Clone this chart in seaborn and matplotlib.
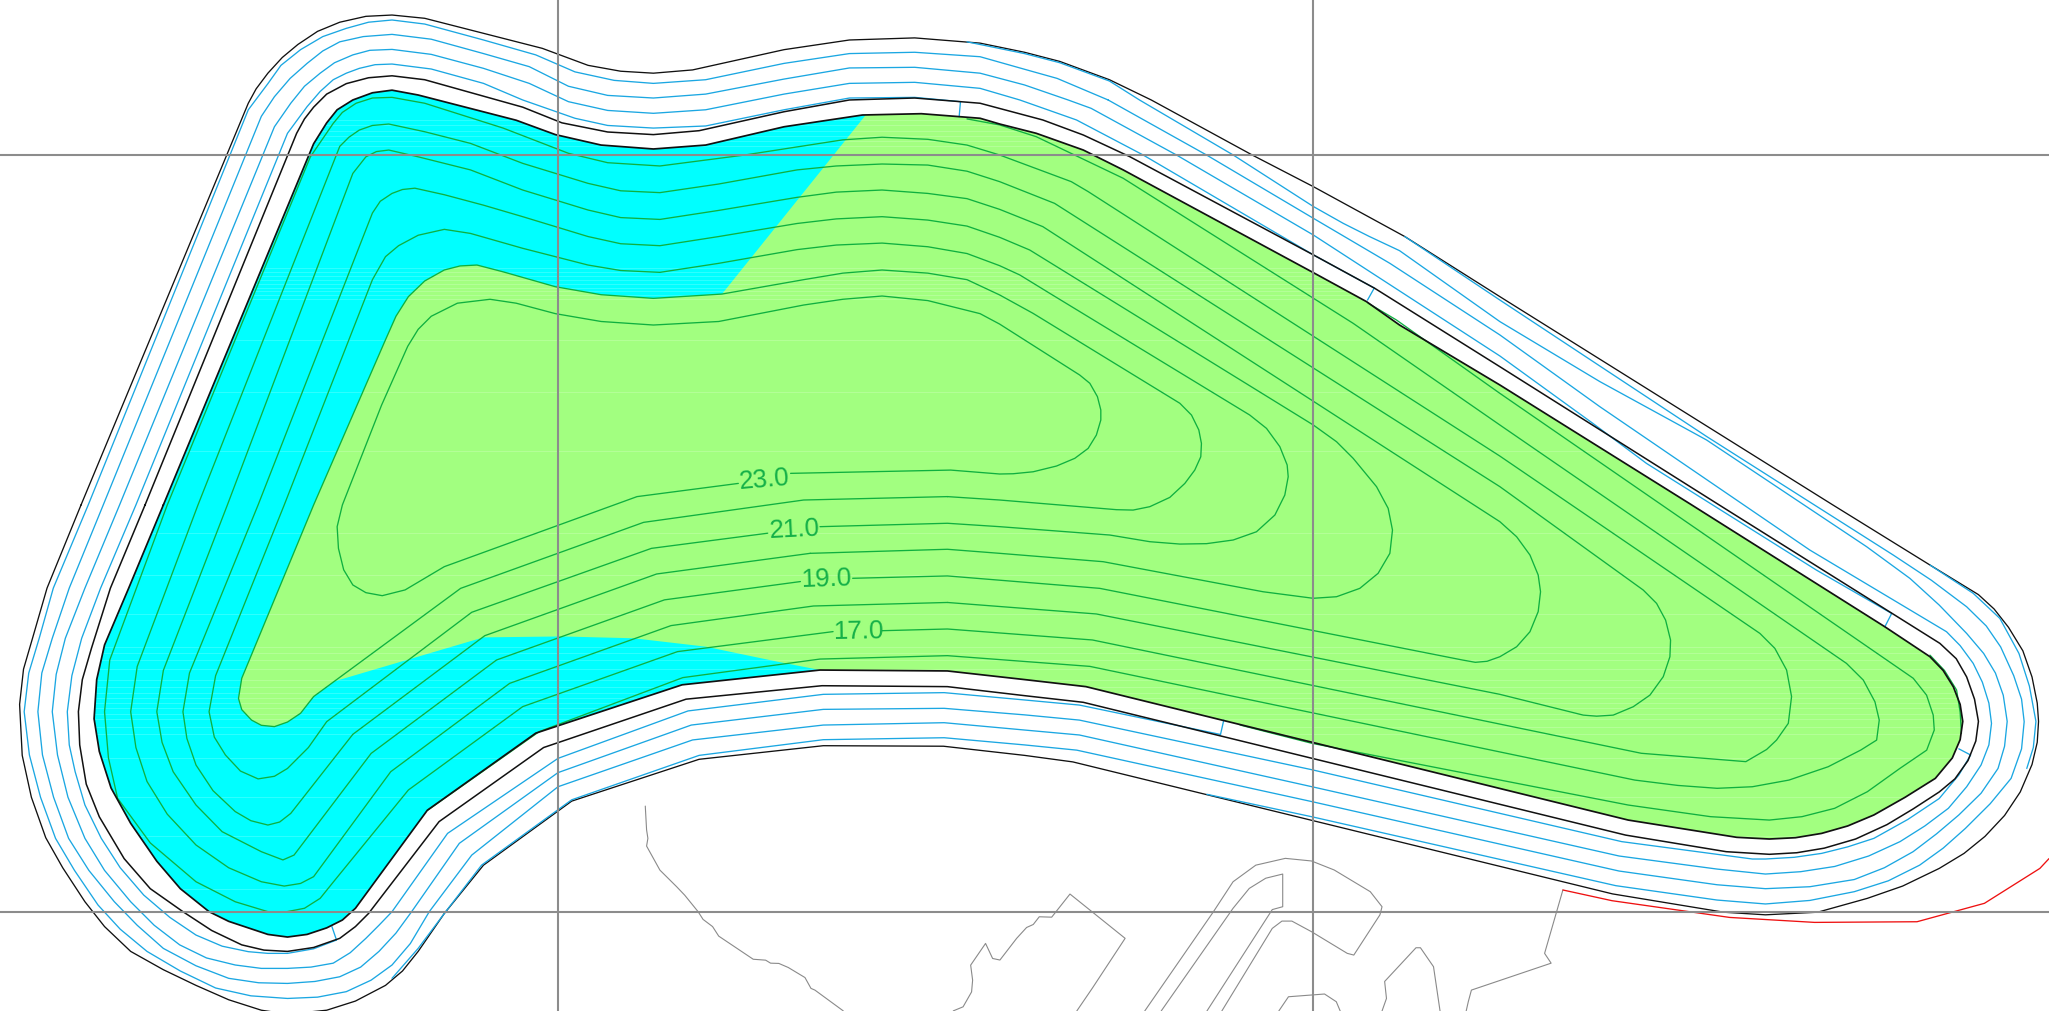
import matplotlib
matplotlib.use("Agg")
import matplotlib.pyplot as plt
import pandas as pd
import seaborn as sns
from matplotlib.patches import Polygon

# drawing units, y grows downwards
grid_x = [427, 1005]
grid_y = [118.6, 697.6]

outer_edge = [(62,386.4),(190,79),(196,68),(205,56),(216,44),(228,34),(243,24),(260,17),(280,12.5),(300,11.5),(325,14),(370,25.5),(415,37),(450,50),(475,54.5),(500,56),(530,53.5),(600,38),(650,30.6),(700,29),(750,33),(784,40),(811,47),(849,61),(881,76.5),(959,119),(1005,142.8),(1075,181),(1147.8,227),(1402,386),(1477,432.4),(1514,455),(1526,466),(1537,480),(1548,498),(1555,518),(1559,538),(1560,552),(1559,568),(1555,585),(1546,606),(1534,624),(1519,640),(1503,653),(1484,664.5),(1456,678),(1429,687.4),(1391,698),(1351,700),(1319,698),(1234,684),(821,583),(784,578),(722,571),(630,570.6),(535,581),(437.5,613),(370,662),(340,699),(320,728),(308,743),(295,754),(272,766),(250,773),(220,776),(200,773),(175,765),(150,754),(125,742),(100,728),(80,709),(65,690),(48,664),(35,641),(24,610),(17,578),(15,539),(18,512),(25,488),(36,450),(62,386.4)]
crest_edge = [(111,386.4),(227,102),(233,91),(240,82),(250,72),(265,64),(282,59.5),(300,58),(325,61),(400,82),(430,94),(465,101),(500,103),(535,100),(600,85.5),(650,76.5),(700,75),(750,79),(765,83),(798,91.8),(829,103.3),(864.6,119.9),(1005,195),(1052,220.6),(1147.8,280.6),(1315,386),(1484.5,492.3),(1497,504),(1505,518),(1511,535),(1514,552),(1512,567),(1506,582),(1496,596),(1484,606),(1464,619),(1444,631),(1420,642),(1396,649),(1375,652.5),(1354,653.7),(1321,651.7),(1244,639),(829,537.4),(784,532.3),(725,525.4),(629,524.7),(525,535),(416,572),(336,628.7),(282,699),(272,709),(260,718),(240,725),(220,728),(202,727),(185,723),(162,712),(140,697.6),(115,680),(95,657),(76,625),(66,600),(61,570),(60,544.5),(63,520),(70,496),(84.5,450),(111,386.4)]
fill_edge = [(125,386.4),(240,110),(250,94),(258,84),(270,76.5),(285,71),(300,69),(320,72.7),(395,92),(425,103),(460,111),(500,114),(540,111),(600,97),(660,88),(705,87),(750,90.5),(765,94.9),(793,102),(829,114.8),(859.5,130),(1005,208.6),(1045.7,230.8),(1071,248.7),(1147.8,294.6),(1294,386),(1442.4,479.6),(1476.9,502.5),(1487,513),(1494.8,525.5),(1500,539),(1502,552),(1500,566),(1494,580),(1481,595.6),(1458,610),(1434,623.6),(1414,632),(1394,637.7),(1374,641),(1354,642),(1329,640.7),(1246,627.5),(831,525.4),(784,520),(725,513.4),(627.5,512.7),(522,524),(410,561),(327,620),(272,695),(262,704),(250,710),(235,715),(220,717),(205,715),(190,710),(175,705),(160,697.6),(138,680),(120,659),(100,630),(85,603),(76,575),(72,550),(74,520),(80,493.5),(98.5,450),(125,386.4)]
green_zone = [(662.5,88),(705,87),(750,90.5),(765,94.9),(793,102),(829,114.8),(859.5,130),(1005,208.6),(1045.7,230.8),(1071,248.7),(1147.8,294.6),(1294,386),(1442.4,479.6),(1476.9,502.5),(1487,513),(1494.8,525.5),(1500,539),(1502,552),(1500,566),(1494,580),(1481,595.6),(1458,610),(1434,623.6),(1414,632),(1394,637.7),(1374,641),(1354,642),(1329,640.7),(1246,627.5),(831,525.4),(784,520),(725,513.4),(627.5,512.7),(595,506.3),(540,494.8),(485,488.4),(430,487),(370,487.7),(255,521.6),(240,533),(230,545.8),(220,552.5),(210,556),(200,555),(192.5,551),(185,543),(182.5,534.4),(185,519),(240,386.4),(295,260),(303,242),(312.5,227),(325,215),(340,206.6),(352,203.5),(365,202.8),(385,208),(425,219.4),(460,225.5),(500,228.3),(552.5,225)]

# bench lines outside the crest
ring_b = [(848,76.5),(923.3,118.6),(1005,167),(1063.6,201.5),(1147.8,256.3),(1224.3,311.2),(1385,420.9),(1489.6,483.4),(1500,494),(1510,507.6),(1517,522),(1522,538),(1524,553.5),(1522,570),(1516,585.4),(1505,602),(1491,618.5),(1473,632),(1454,644),(1430,655),(1404,663),(1378,667),(1351,668.8),(1314,665),(1239,655),(1004,602),(826,562.4),(784,558.6),(722.5,553),(630,554.8),(530,566.2),(427,602),(361,654.3),(328.5,697.6),(314,722),(300,738.4),(284,750),(265,758.8),(243,763),(220,764),(192,762),(165,756),(138,743),(112.5,728),(92,711),(75,692.5),(57,666),(42.5,641.5),(31,610),(22.5,577.7),(18.5,544.6),(22,515),(30,488.4),(40.8,450),(67.5,386.4),(190,84),(205,64),(215,50),(230,38),(247,28),(265,21.7),(282,17),(300,15.3),(325,18.4),(370,30.6),(410,42),(440,55),(470,61.5),(500,63.8),(540,61),(600,48.5),(650,41),(700,40),(750,43.4),(784,53),(809,60),(848,76.5)]
ring_a = [(740,32),(784,41),(811,48),(849,62),(872,76.5),(943.7,118.6),(1005,158),(1027.9,170.9),(1048,181),(1071,191.8),(1147.8,246.1),(1224.3,292),(1306,336.7),(1428.4,418.3),(1461.6,442.6),(1484,463),(1505,484.7),(1518,500),(1527,515),(1533,532),(1536,552),(1534,571),(1529,588),(1516,607),(1499,623.6),(1482,638),(1464,651.7),(1442,664),(1419,673),(1385,678.5),(1351,680),(1314,677),(1239,666.5),(1004,613.4),(824,574),(784,570),(722.5,564.5),(630,566),(535,578),(437.5,612),(368.5,662),(340,699),(320,725.7),(300,748.6)]
ring_c = [(1447.6,469.4),(1390,436.2),(1260,354.6),(1219,324),(1147.8,272.4),(1005,179.8),(900.3,118.6),(835,82.9),(817.4,76.5),(784,65),(750,56),(700,51.5),(650,52),(600,60.5),(540,72),(500,75),(465,73),(435,66),(405,51),(370,41),(330,30),(300,26.3),(278,28),(260,32),(247,39),(235,48.5),(222,60),(210,74),(200,89),(79,386.4),(53,450),(40,488.4),(32,515),(29,544.6),(32.5,577.7),(41,610),(52.5,641.5),(68,666),(87.5,690),(105,708),(125,725.7),(150,739),(175,748.6),(198,752),(220,752.5),(241,751),(260,747.4),(276,740),(290,728),(303,714),(315,697.6),(351.5,645.3),(427,591.2),(529,554.8),(630,542.8),(722.5,542),(784,547),(826,551),(1004,589),(1241,644),(1341,657.3),(1351,657.3),(1373,656),(1394,653),(1414,648),(1434,641.5),(1460,627),(1484,611),(1499,593),(1508,577.7)]
ring_d = [(1052,220.6),(1005,195),(874.8,118.6),(823.8,91.8),(780.4,76.5),(750,67.6),(700,63),(650,63.8),(600,72),(540,84),(500,86.7),(465,84.5),(435,77.8),(405,63.8),(370,52.3),(330,41.6),(300,37.8),(283,38.5),(270,42),(256,48),(245,56),(233,66),(222.5,79),(210,97),(91.5,386.4),(65,450),(50,488.4),(43,516),(40,544.6),(44,577.7),(52,610),(65,641.5),(80,666),(100,690),(118,708),(137.5,723),(158,733),(180,738.4),(200,741),(220,741),(238,740),(255,737),(268,729),(280,718),(290,708),(300,697.6),(342.5,637.7),(427,580.3),(526.5,544),(630,531.3),(722.5,530),(784,535.6),(826,539.5),(934,562)]
ring_e = [(735,77.8),(700,74.5),(650,75),(600,84),(540,96.4),(500,98),(465,96),(440,90.5),(400,76.5),(370,63.8),(330,52.8),(300,49),(287,49.5),(275,52.3),(265,56),(255,61),(245,70),(235,81.6),(220,102),(104,386.4),(77,450),(62.5,488.4),(55,517),(51.5,544.6),(53,570),(57.5,590.5),(65,616),(77.5,641.5),(92,664),(110,684.9),(130,702),(150,715.5),(170,724),(190,728.2),(205,729.5),(220,729.5),(240,726),(257.5,719.3)]
ring_f = [(1075,181),(1147.8,229.6),(1306,334),(1448.8,424.7),(1478,444),(1505,464.3),(1520,479),(1531,495),(1541,517),(1547,535),(1549,552.2),(1547,573),(1539,595.6),(1523,615),(1504,633.9),(1487,649),(1469,662),(1445,674),(1419,682.3),(1385,689),(1351,691.7),(1314,688.7),(1236.5,677.7),(1004,625),(923.6,607.8)]
ring_g = [(1477,432.4),(1510,454),(1530.4,473.2),(1545,500),(1553,525),(1558,552),(1556,572),(1551,588)]
tick_marks = [[(735,77.8),(734,89.3)],[(1051.5,220.7),(1046.5,229.6)],[(1447.6,469.4),(1442.4,479.6)],[(1499,573),(1508,577.7)],[(934,562),(936.5,551)],[(254,709),(257.5,719.3)]]

# contours, left open where the label sits
level_23 = [(605,362.2),(727.5,359.7),(765,362.7),(775.3,362.5),(790.6,361),(808.5,356.6),(822.5,350.7),(832.7,343.1),(839,332.9),(842.4,321.4),(842.4,313.7),(839.8,303.5),(834,293.3),(826.3,287),(765,248),(750,240),(710,230),(675,226.5),(645,229),(615,233.4),(550,246),(500,248.7),(460,246),(425,240),(395,232),(375,229),(350,232),(330,242),(320,252),(312,265),(292,310),(262,386.4),(258,403),(259,419.6),(263,436),(270,447.6),(280,453.5),(292.5,455.8),(310,451.4),(340,433.6),(487.5,380),(565,369.9)]
level_22 = [(725,380),(765,382.6),(854.4,390),(867.1,390.3),(879.9,387.7),(895.2,380.6),(906.7,369.9),(914.3,359.7),(918.9,349.5),(919.4,339.3),(917.4,329),(911.8,317.6),(902.9,308.6),(790.6,239.8),(765,225.7),(740,214),(710,209),(675,206.6),(645,209),(615,214),(552.5,225),(500,228.3),(460,225.5),(425,219.4),(385,208),(365,202.8),(352,203.5),(340,206.6),(325,215),(312.5,227),(303,242),(295,260),(240,386.4),(185,519),(182.5,534.4),(185,543),(192.5,551),(200,555),(210,556),(220,552.5),(230,545.8),(240,533),(352.5,450.2),(492.5,399.7),(615,382.6),(725,380)]
level_21 = [(627.5,403),(725,400.4),(765,403),(849.3,409.4),(879.9,414.5),(902.9,416.3),(923.3,416),(943.7,413.2),(961.5,406.9),(975.6,394.1),(983.2,378.8),(985.8,364.8),(985,355.8),(979.4,341.8),(969.2,327.8),(956.4,317.6),(803.4,224.5),(780.4,210.4),(765,203.3),(740,194),(710,188.8),(675,186),(640,187.5),(610,191),(550,201.5),(505,208.4),(475,207),(450,202.8),(400,190),(360,178.6),(340,175.5),(320,180),(305,188),(295,196.4),(285,214),(217.5,386.4),(165,517),(160,544.6),(164,564),(172.5,577.7),(184,590),(197.5,596),(210,594),(220,588),(236,572),(250,552.2),(361,468.5),(498.5,419.6),(587.5,408)]
level_20 = [(620,423.4),(725,420.3),(765,423.4),(844.2,429.8),(966.6,452.8),(1004.9,457.8),(1022.8,456.6),(1040.6,450.2),(1054.6,438.7),(1063.6,423.4),(1065.6,405.6),(1062.3,389),(1053.4,372.4),(1035.5,350.7),(1022.8,338),(1005,325.2),(788,191.3),(765,181.6),(740,173),(710,168.4),(675,165.8),(640,167.5),(610,171),(550,181),(505,188),(475,186.5),(450,181),(400,165.8),(370,157),(340,149),(317.5,144),(308,145),(300,148),(291,154),(285,163),(197.5,386.4),(145,515),(140,544.6),(143,565),(150,585.4),(163,605),(180,621),(192,628),(205,631.3),(214,629),(222.5,622.4),(270,561.9),(371,486.4),(502.5,439.2),(620,423.4)]
level_19 = [(652.5,442.5),(725,440.7),(841.6,450.2),(1119,505),(1129,506.8),(1138,506),(1147.8,502.5),(1160.6,494.9),(1170.8,483.4),(1177.1,468),(1178.9,452.8),(1177.1,440),(1170.8,424.7),(1160.6,410.7),(1147.8,399.2),(798,173.4),(765,160.2),(740,152),(710,148),(675,145.4),(640,147),(610,151),(550,161),(505,167.9),(475,166.5),(450,160.7),(400,145.4),(360,130),(320,120),(297.5,114.8),(288,116),(280,120),(270,132.7),(174,386.4),(125,513),(120,544.6),(124,568),(132.5,590.5),(150,616),(170,636.4),(200,651.7),(216.5,658),(225,654.3),(284,576.5),(380,505),(508.5,459),(612.5,445)]
level_18 = [(725,461),(839,469.8),(1147.8,531.3),(1211.6,547.2),(1221.8,548),(1234.5,547.2),(1249.8,540.8),(1262.6,531.9),(1272.8,517.8),(1277.9,502.5),(1278.4,489.8),(1274.6,474.5),(1267.7,461.7),(1257.5,451.5),(1147.8,372.4),(807,155.6),(765,139),(740,131),(710,126.3),(675,125.5),(640,127),(610,130),(550,140.8),(505,147.4),(475,146),(450,140.3),(400,125),(360,109.7),(325,100.8),(297.5,94.9),(285,96),(275,99.5),(267,105),(260,112),(151.5,386.4),(105,510),(100,544.6),(104,572),(112.5,598),(128,623),(150,646.6),(175,664),(200,674.7),(217.5,678),(230,676),(240,670.8),(299,590.5),(390,522.9),(513.5,478.7),(622.5,463.7),(725,461)]
level_17 = [(675,482.6),(725,481.3),(836,489.7),(1256,576.4),(1336,582.8),(1351.9,573.5),(1359.5,566.3),(1368.5,553.5),(1371,533),(1367.2,512.7),(1358.2,496.1),(1346.8,484.7),(1147.8,349),(832.7,146.6),(819.8,139),(765,118.6),(740,111),(710,106.6),(675,105),(645,107),(570,118.6),(505,127),(465,124.5),(435,117.3),(385,98),(325,79),(300,74.5),(285,75),(272.5,79),(262,86),(255,94.4),(237.5,120),(128,386.4),(84,505),(80,544.6),(83,580),(90,610.9),(115,645),(150,674.7),(180,690),(205,697.6),(217.5,698),(233,695),(245,687.4),(255,675),(312.5,604.5),(400,540.7),(518.5,498.6),(637.5,483.3)]
level_16 = [(327.5,619.8),(412.5,559.9),(522.5,518.5),(627.5,504.3),(725,501.7),(834,509.9),(1251,596.9),(1284,601),(1314,603.2),(1341,602),(1369,596.9),(1399,586.7),(1424,573.9),(1436.1,566.3),(1438.1,551),(1434.8,537),(1425.9,520.4),(1413,507.6),(1147.8,325.2),(1035.5,247.4),(859.5,136.4),(793,104.6),(765,95.6),(740,91)]
level_15 = [(949,554.8),(1004,568.8),(1246,616),(1309,624.9),(1354,627.5),(1379,624.9),(1404,618.5),(1429,605.8),(1454,587.9),(1474.4,574),(1480.2,558.6),(1479.4,547.2),(1474.3,531.9),(1464.1,519),(1147.8,301),(1068.7,244.9),(1047,232)]
level_14 = [(1476.9,501.3),(1488,513),(1497.3,528),(1500,545),(1501,561.2)]

contour_labels = ["23.0", "21.0", "19.0", "17.0"]
label_x = [585, 608, 632, 657]
label_y = [367.5, 405, 443, 483]
label_rot = [5, 3, 2, 1]

# ground survey and property line
ground_1 = [(493.8,616.8),(494.8,635),(495.8,641.5),(494.8,647.4),(505,665.8),(517.8,678.5),(524,685),(534.3,697.7),(538,703.5),(545.3,709),(550,716.3),(576.4,734),(585.9,734.7),(589.7,737),(596,737.2),(603.2,740.3),(616,748),(620.6,756.3),(623.6,757.6),(645.3,773.5)]
ground_2 = [(729.5,773.5),(737,770.4),(743.5,759),(744.3,750),(742.8,738.5),(754.2,721.9),(759.6,733.4),(765.2,734.6),(778,718),(785.6,709.7),(790.7,707.4),(795.3,701.5),(804.8,701.8),(818.8,684.1),(861,718),(836,756),(824,773.6)]
ground_3 = [(876,773.6),(928.6,697.6),(943.6,674.7),(961,662),(983.6,656.8),(1003.6,658.8),(1021,665.7),(1048.6,682.3),(1057.6,693.8),(1056,700),(1036,730.8),(1031,729.5),(1003.6,712.9),(988.6,704.8),(981,704.8),(973.6,710.4),(935,773.6)]
ground_4 = [(888.6,773.6),(943.6,695),(956,679.8),(968.6,672),(981.6,668.8),(981.6,693.8),(973.6,696),(923.6,773.6)]
ground_5 = [(978.6,773.6),(986,762.7),(1013.6,760.6),(1022.6,766.5),(1025.6,773.6)]
ground_6 = [(1057.6,773.6),(1061,764),(1059.6,751),(1083.6,725.2),(1087,725.2),(1097,739.7),(1102,773.6)]
ground_7 = [(1122,773.6),(1123.6,766.5),(1126,757.6),(1187,737),(1182,729.5),(1196,681)]
red_line = [(1196,681),(1233.6,689.2),(1323.6,702),(1388.6,705.8),(1467,705.3),(1518.6,691.2),(1561,664.5),(1568,657)]

# pale streaks in the hatch fill
streak_y = [92,96,100,104,108,112,205,208,211,214,217,220,223,226,229,260,300,345,408,440,470,495,500,505,512,520,526,530,534,538,542,546,550,556,562,580,610,640,680]


def draw(points, color, lw):
    df = pd.DataFrame(points, columns=["x", "y"])
    sns.lineplot(data=df, x="x", y="y", estimator=None, sort=False, color=color,
                 linewidth=lw, legend=False, ax=ax)


sns.set_theme(style="white")
plt.rcParams["font.family"] = ["Liberation Sans", "DejaVu Sans"]
plt.rcParams["text.hinting"] = "no_hinting"
plt.rcParams["text.hinting_factor"] = 1

fig = plt.figure(figsize=(20.49, 10.11), dpi=100)
ax = fig.add_axes([0, 0, 1, 1])

ax.add_patch(Polygon(fill_edge, closed=True, facecolor="#00ffff", edgecolor="none", zorder=1))
ax.add_patch(Polygon(green_zone, closed=True, facecolor="#a2ff80", edgecolor="none", zorder=1))

clip = Polygon(fill_edge, closed=True, transform=ax.transData)
streaks = ax.hlines(streak_y, 0, 1568, colors="white", linewidth=0.6, alpha=0.22, zorder=1.5)
streaks.set_clip_path(clip)

cyan = "#1ba7e2"
green = "#0fb040"
black = "#111111"
gray = "#8a8a8a"


def draw_group(lines, color, lw, order):
    for line in lines:
        draw(line, color, lw)
        ax.lines[-1].set_zorder(order)
        ax.lines[-1].set_solid_joinstyle("round")


draw_group([level_23, level_22, level_21, level_20, level_19, level_18, level_17, level_16, level_15, level_14], green, 0.95, 2)
draw_group([ground_1, ground_2, ground_3, ground_4, ground_5, ground_6, ground_7], gray, 0.8, 2)
draw_group([red_line], "#ee1111", 0.95, 2)
draw_group([outer_edge], black, 0.95, 3)
draw_group([ring_a, ring_b, ring_c, ring_d, ring_e, ring_f, ring_g] + tick_marks, cyan, 0.95, 3)
draw_group([crest_edge], black, 1.1, 3)
draw_group([fill_edge], black, 1.25, 3)

for gx in grid_x:
    ax.axvline(gx, color="#8c8c8c", linewidth=1.5, zorder=4)
for gy in grid_y:
    ax.axhline(gy, color="#8c8c8c", linewidth=1.5, zorder=4)

for txt, tx, ty, rot in zip(contour_labels, label_x, label_y, label_rot):
    ax.text(tx, ty, txt, color="#14b048", fontsize=18.5, rotation=rot, ha="center", va="center",
            rotation_mode="anchor", zorder=5)

ax.set_xlim(0, 1568)
ax.set_ylim(773.6, 0)
ax.set_axis_off()

fig.savefig("out.png", dpi=100)
